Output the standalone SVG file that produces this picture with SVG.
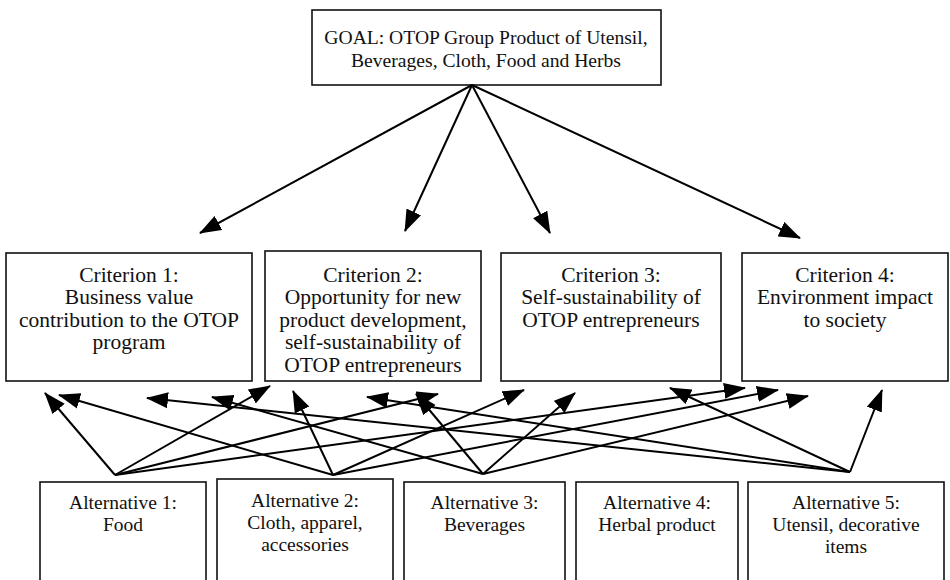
<svg xmlns="http://www.w3.org/2000/svg" width="950" height="580" viewBox="0 0 950 580">
<style>
.box{fill:#fff;stroke:#111;stroke-width:1.6}
text{font-family:"Liberation Serif","Times New Roman",serif;font-size:21.5px;fill:#111;text-anchor:middle}
text.g{font-size:19.6px}
text.a{font-size:19.5px}
.c line{stroke:#000;stroke-width:2;marker-end:url(#ah)}
</style>
<defs>
<marker id="ah" markerUnits="userSpaceOnUse" markerWidth="22" markerHeight="17" refX="21" refY="8" orient="auto" viewBox="0 0 22 16">
<path d="M0,0 L22,8 L0,16 z" fill="#000"/>
</marker>
</defs>
<rect width="950" height="580" fill="#fff"/>
<g id="goal">
<rect class="box" x="312" y="10" width="349" height="75"/>
<text class="g" x="486" y="44">GOAL: OTOP Group Product of Utensil,</text>
<text class="g" x="486" y="67">Beverages, Cloth, Food and Herbs</text>
</g>
<g id="c1">
<rect class="box" x="6" y="253" width="246" height="128"/>
<text x="129" y="282">Criterion 1:</text>
<text x="129" y="304">Business value</text>
<text x="129" y="327">contribution to the OTOP</text>
<text x="129" y="349">program</text>
</g>
<g id="c2">
<rect class="box" x="265" y="251" width="216" height="130"/>
<text x="373" y="282">Criterion 2:</text>
<text x="373" y="304">Opportunity for new</text>
<text x="373" y="327">product development,</text>
<text x="373" y="349">self-sustainability of</text>
<text x="373" y="372">OTOP entrepreneurs</text>
</g>
<g id="c3">
<rect class="box" x="501" y="253" width="220" height="128"/>
<text x="611" y="282">Criterion 3:</text>
<text x="611" y="304">Self-sustainability of</text>
<text x="611" y="327">OTOP entrepreneurs</text>
</g>
<g id="c4">
<rect class="box" x="742" y="253" width="206" height="128"/>
<text x="845" y="282">Criterion 4:</text>
<text x="845" y="304">Environment impact</text>
<text x="845" y="327">to society</text>
</g>
<g id="a1">
<rect class="box" x="40" y="482" width="166" height="110"/>
<text class="a" x="123" y="509">Alternative 1:</text>
<text class="a" x="123" y="531">Food</text>
</g>
<g id="a2">
<rect class="box" x="217" y="479" width="176" height="113"/>
<text class="a" x="305" y="507">Alternative 2:</text>
<text class="a" x="305" y="529">Cloth, apparel,</text>
<text class="a" x="305" y="551">accessories</text>
</g>
<g id="a3">
<rect class="box" x="404" y="482" width="161" height="110"/>
<text class="a" x="484.5" y="509">Alternative 3:</text>
<text class="a" x="484.5" y="531">Beverages</text>
</g>
<g id="a4">
<rect class="box" x="576" y="482" width="162" height="110"/>
<text class="a" x="657" y="509">Alternative 4:</text>
<text class="a" x="657" y="531">Herbal product</text>
</g>
<g id="a5">
<rect class="box" x="748" y="482" width="196" height="110"/>
<text class="a" x="846" y="509">Alternative 5:</text>
<text class="a" x="846" y="531">Utensil, decorative</text>
<text class="a" x="846" y="553">items</text>
</g>
<g id="connectors" class="c">
<line x1="472" y1="85" x2="200" y2="233"/>
<line x1="472" y1="85" x2="405" y2="231"/>
<line x1="472" y1="85" x2="550" y2="233"/>
<line x1="472" y1="85" x2="800" y2="238"/>
<line x1="115" y1="475" x2="45" y2="393"/>
<line x1="115" y1="475" x2="270" y2="386"/>
<line x1="115" y1="475" x2="438" y2="394"/>
<line x1="115" y1="475" x2="745" y2="388"/>
<line x1="333" y1="475" x2="59" y2="395"/>
<line x1="333" y1="475" x2="293" y2="391"/>
<line x1="333" y1="475" x2="524" y2="390"/>
<line x1="333" y1="475" x2="778" y2="390"/>
<line x1="483" y1="474" x2="212" y2="397"/>
<line x1="483" y1="474" x2="416" y2="394"/>
<line x1="483" y1="474" x2="575" y2="393"/>
<line x1="483" y1="474" x2="808" y2="396"/>
<line x1="850" y1="472" x2="147" y2="398"/>
<line x1="850" y1="472" x2="367" y2="397"/>
<line x1="850" y1="472" x2="670" y2="388"/>
<line x1="850" y1="472" x2="882" y2="390"/>
</g>
</svg>
